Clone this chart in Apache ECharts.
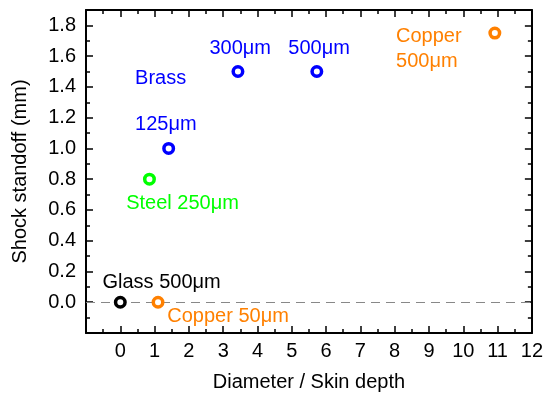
<!DOCTYPE html>
<html>
<head>
<meta charset="utf-8">
<script src="https://cdn.jsdelivr.net/npm/echarts@6/dist/echarts.min.js"></script>
<style>html,body{margin:0;padding:0;background:#fff}#c{width:546px;height:399px}</style>
</head>
<body>
<div id="c"></div>
<script>
// Data
const names = ['Glass 500\u03bcm', 'Copper 50\u03bcm', 'Steel 250\u03bcm', 'Brass 125\u03bcm', 'Brass 300\u03bcm', 'Brass 500\u03bcm', 'Copper 500\u03bcm'];
const xValues = [0, 1.1, 0.85, 1.41, 3.43, 5.73, 10.92];
const yValues = [0, 0, 0.8, 1.0, 1.5, 1.5, 1.75];
const colors = ['#000000', '#ff8000', '#00ff00', '#0000ff', '#0000ff', '#0000ff', '#ff8000'];
const xTicks = [0,1,2,3,4,5,6,7,8,9,10,11,12];
const yTicks = ['0.0','0.2','0.4','0.6','0.8','1.0','1.2','1.4','1.6','1.8'];
// annotation texts (anchor in data coords)
const annTexts = ['Glass 500\u03bcm', 'Copper 50\u03bcm', 'Steel 250\u03bcm', '125\u03bcm', 'Brass', '300\u03bcm', '500\u03bcm', 'Copper', '500\u03bcm'];
const annX = [-0.52, 1.37, 0.17, 0.43, 0.43, 2.6, 4.9, 8.04, 8.04];
const annY = [0.13, -0.095, 0.64, 1.155, 1.455, 1.65, 1.65, 1.73, 1.565];
const annColors = ['#000000', '#ff8000', '#00ff00', '#0000ff', '#0000ff', '#0000ff', '#0000ff', '#ff8000', '#ff8000'];

const font = 'Liberation Sans, Arial, sans-serif';
const fs = 20;
const chart = echarts.init(document.getElementById('c'), null, {renderer: 'canvas'});

const baseAxis = {
  axisLine: {show: true, onZero: false, lineStyle: {color: '#000', width: 2}},
  axisTick: {show: true, inside: true, length: 7, lineStyle: {color: '#000', width: 1.5}},
  minorTick: {show: true, splitNumber: 2, length: 4, lineStyle: {color: '#000', width: 1.5}},
  splitLine: {show: false}
};

const option = {
  animation: false,
  grid: {left: 86, right: 12, top: 10, bottom: 66},
  xAxis: [
    Object.assign({}, baseAxis, {
      type: 'value', min: -1, max: 12, interval: 1, position: 'bottom',
      name: 'Diameter / Skin depth', nameLocation: 'middle', nameGap: 39,
      nameTextStyle: {fontFamily: font, fontSize: fs, color: '#000'},
      axisLabel: {margin: 8, fontFamily: font, fontSize: fs, color: '#000',
        formatter: v => xTicks.indexOf(v) >= 0 ? String(v) : ''}
    }),
    Object.assign({}, baseAxis, {
      type: 'value', min: -1, max: 12, interval: 1, position: 'top',
      axisLabel: {show: false}
    })
  ],
  yAxis: [
    Object.assign({}, baseAxis, {
      type: 'value', min: -0.2, max: 1.9, interval: 0.2, position: 'left',
      name: 'Shock standoff (mm)', nameLocation: 'middle', nameGap: 56,
      nameTextStyle: {fontFamily: font, fontSize: fs, color: '#000'},
      axisLabel: {margin: 10, fontFamily: font, fontSize: fs, color: '#000',
        formatter: v => { const s = v.toFixed(1); return (v > -0.05 && v < 1.85 && yTicks.indexOf(s) >= 0) ? s : ''; }}
    }),
    Object.assign({}, baseAxis, {
      type: 'value', min: -0.2, max: 1.9, interval: 0.2, position: 'right',
      axisLabel: {show: false}
    })
  ],
  series: [
    {
      type: 'scatter', xAxisIndex: 0, yAxisIndex: 0, z: 5,
      symbol: 'circle', symbolSize: 9.5,
      data: xValues.map((x, i) => ({
        value: [x, yValues[i]], name: names[i],
        itemStyle: {color: '#fff', borderColor: colors[i], borderWidth: 3.5, opacity: 1}
      })),
      markLine: {
        silent: true, symbol: 'none', z: 1,
        lineStyle: {color: '#888', type: [9, 6], width: 1.2},
        label: {show: false},
        data: [{yAxis: 0}]
      }
    },
    {
      type: 'scatter', xAxisIndex: 0, yAxisIndex: 0, z: 6,
      symbolSize: 0, silent: true,
      itemStyle: {opacity: 1},
      data: annX.map((x, i) => ({
        value: [x, annY[i]],
        itemStyle: {opacity: 1},
        label: {show: true, position: 'right', distance: 0, formatter: annTexts[i],
          color: annColors[i], fontFamily: font, fontSize: fs, opacity: 1}
      }))
    }
  ]
};
chart.setOption(option);
</script>
</body>
</html>
